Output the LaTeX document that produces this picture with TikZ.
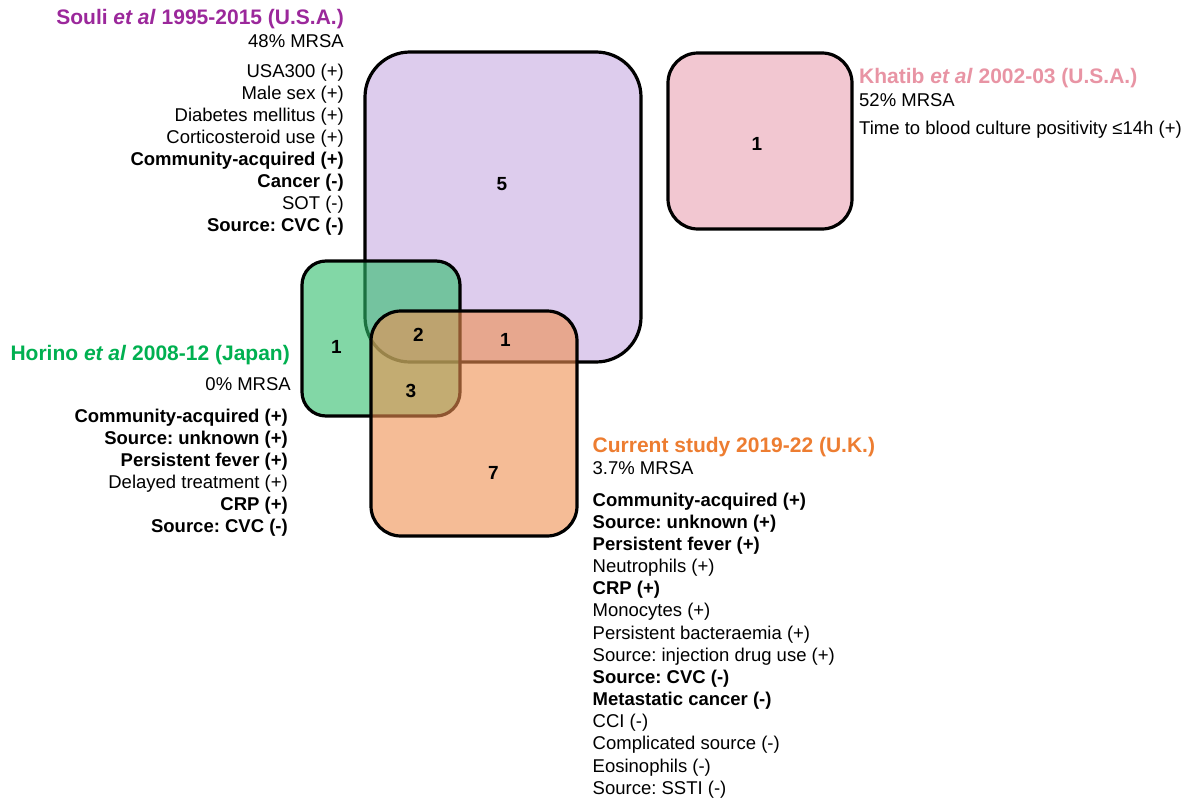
\documentclass[tikz,border=0pt]{standalone}
\usepackage{fontspec}
\setmainfont{Liberation Sans}
\frenchspacing
\definecolor{cPurpleFill}{RGB}{221,204,237}
\definecolor{cPinkFill}{RGB}{242,199,209}
\definecolor{cGreen}{RGB}{46,189,107}
\definecolor{cOrange}{RGB}{238,143,80}
\definecolor{tPurple}{RGB}{155,40,155}
\definecolor{tPink}{RGB}{232,148,164}
\definecolor{tGreen}{RGB}{0,176,80}
\definecolor{tOrange}{RGB}{237,125,49}
\begin{document}
\begin{tikzpicture}[x=1pt,y=-1pt,
  box/.style={line width=3.2pt, draw=black},
  num/.style={font=\bfseries\fontsize{19}{22}\selectfont, inner sep=0pt},
  lbl/.style={font=\fontsize{18.5}{22}\selectfont, inner sep=0pt},
  ttl/.style={font=\bfseries\fontsize{21}{25}\selectfont, inner sep=0pt}]
\useasboundingbox (0,0) rectangle (1199,803);
% boxes
\draw[box, fill=cPurpleFill, rounded corners=45pt] (365,52) rectangle (641,362);
\draw[box, fill=cPinkFill, rounded corners=30pt] (668,53) rectangle (852,229);
\draw[box, fill=cGreen, fill opacity=0.6, rounded corners=24pt] (302,261) rectangle (460,416);
\draw[box, fill=cOrange, fill opacity=0.6, rounded corners=30pt] (371,311) rectangle (577,536);
% counts
\node[num] (n5) at (502,184) {5};
\node[num] (nk) at (757,144) {1};
\node[num] (nh) at (336.5,347) {1};
\node[num] (n2) at (418.5,335) {2};
\node[num] (no) at (505.5,339.5) {1};
\node[num] (n3) at (411,391) {3};
\node[num] (n7) at (493.5,473) {7};
% Souli
\node[ttl, text=tPurple, anchor=base east] (soulit) at (344,24.5) {Souli \textit{et al} 1995-2015 (U.S.A.)};
\node[lbl, anchor=base east] (soulim) at (344,47.3) {48\% MRSA};
\foreach \yy/\txt [count=\i] in {77.3/USA300 (+), 99.3/Male sex (+), 121.3/Diabetes mellitus (+), 143.3/Corticosteroid use (+), 165.3/{\bfseries Community-acquired (+)}, 187.3/{\bfseries Cancer (-)}, 209.3/SOT (-), 231.3/{\bfseries Source: CVC (-)}}
  \node[lbl, anchor=base east] (souli\i) at (344,\yy) {\txt};
% Khatib
\node[ttl, text=tPink, anchor=base west] (khatibt) at (859,83.3) {Khatib \textit{et al} 2002-03 (U.S.A.)};
\node[lbl, anchor=base west] (khatibm) at (859,106) {52\% MRSA};
\node[lbl, anchor=base west] (khatib1) at (859,134) {Time to blood culture positivity ≤14h (+)};
% Horino
\node[ttl, text=tGreen, anchor=base east] (horinot) at (290,360) {Horino \textit{et al} 2008-12 (Japan)};
\node[lbl, anchor=base east] (horinom) at (291,390.7) {0\% MRSA};
\foreach \yy/\txt [count=\i] in {422/{\bfseries Community-acquired (+)}, 444.2/{\bfseries Source: unknown (+)}, 466.4/{\bfseries Persistent fever (+)}, 488.5/Delayed treatment (+), 510.7/{\bfseries CRP (+)}, 532.8/{\bfseries Source: CVC (-)}}
  \node[lbl, anchor=base east] (horino\i) at (288,\yy) {\txt};
% Current study
\node[ttl, text=tOrange, anchor=base west] (curt) at (592.5,452.7) {Current study 2019-22 (U.K.)};
\node[lbl, anchor=base west] (curm) at (592.5,474.3) {3.7\% MRSA};
\foreach \txt [count=\i] in {{\bfseries Community-acquired (+)}, {\bfseries Source: unknown (+)}, {\bfseries Persistent fever (+)}, Neutrophils (+), {\bfseries CRP (+)}, Monocytes (+), Persistent bacteraemia (+), Source: injection drug use (+), {\bfseries Source: CVC (-)}, {\bfseries Metastatic cancer (-)}, CCI (-), Complicated source (-), Eosinophils (-), Source: SSTI (-)}
  \node[lbl, anchor=base west] (cur\i) at (592.5,{506+22.18*(\i-1)}) {\txt};
\end{tikzpicture}
\end{document}
